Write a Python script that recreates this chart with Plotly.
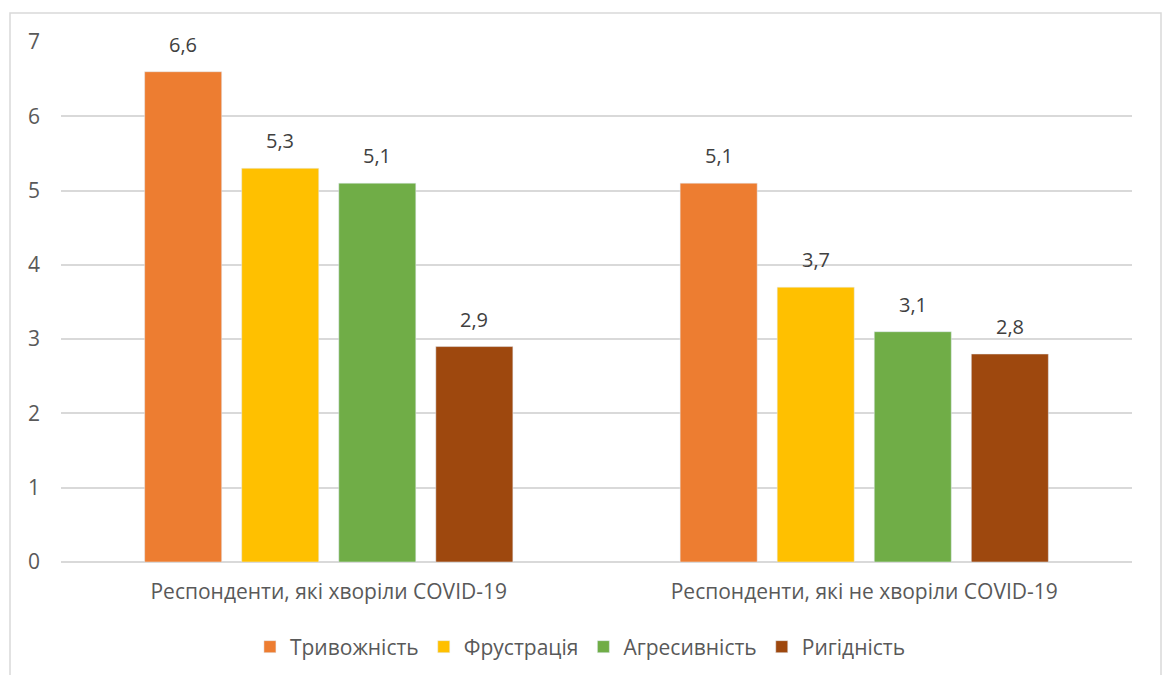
import plotly.graph_objects as go

categories = ["Респонденти, які хворіли COVID-19", "Респонденти, які не хворіли COVID-19"]
series_names = ["Тривожність", "Фрустрація", "Агресивність", "Ригідність"]
series_values = [
    [6.6, 5.1],
    [5.3, 3.7],
    [5.1, 3.1],
    [2.9, 2.8],
]
series_colors = ["#ED7D31", "#FFC000", "#70AD47", "#9E480E"]
y_ticks = [0, 1, 2, 3, 4, 5, 6, 7]

FONT = "Open Sans, Liberation Sans, sans-serif"
TEXT = "#595959"
LABEL = "#404040"

W, H = 1167, 675
L, R, T, B = 61, 35, 42, 113
pw, ph = W - L - R, H - T - B
BARGAP, GROUPGAP = 0.275, 0.206

fig = go.Figure()
for name, vals, col in zip(series_names, series_values, series_colors):
    fig.add_trace(go.Bar(x=categories, y=vals, name=name, marker_color=col))

# value labels above each bar, shifted to the bar's slot within its group
cat_px = pw / len(categories)
slot_px = (1 - BARGAP) * cat_px / len(series_names)
for i, vals in enumerate(series_values):
    shift = (i - (len(series_names) - 1) / 2) * slot_px
    for cat, v in zip(categories, vals):
        fig.add_annotation(x=cat, y=v, xref="x", yref="y", xshift=shift, yshift=12,
                           yanchor="bottom", showarrow=False,
                           text=f"{v:.1f}".replace(".", ","),
                           font=dict(family=FONT, size=20, color=LABEL))

# outer chart frame
def px_x(p):
    return (p - L) / pw

def px_y(p):
    return (H - B - p) / ph

fig.add_shape(type="rect", xref="paper", yref="paper",
              x0=px_x(10), x1=px_x(1161), y0=px_y(700), y1=px_y(13),
              line=dict(color="#D9D9D9", width=1.5), layer="below")

fig.update_layout(
    width=W, height=H,
    margin=dict(l=L, r=R, t=T, b=B, autoexpand=False),
    paper_bgcolor="white", plot_bgcolor="white",
    barmode="group", bargap=BARGAP, bargroupgap=GROUPGAP,
    font=dict(family=FONT, color=TEXT),
    showlegend=True,
    legend=dict(orientation="h", x=0.485, xanchor="center", y=px_y(647), yanchor="middle",
                font=dict(family=FONT, size=21, color=TEXT), itemwidth=30,
                traceorder="normal"),
    xaxis=dict(showgrid=False, showline=False, ticks="", ticklabelstandoff=15,
               automargin=False, tickfont=dict(family=FONT, size=21, color=TEXT)),
    yaxis=dict(range=[0, 7], tickvals=y_ticks, showgrid=True, gridcolor="#D9D9D9",
               gridwidth=1.5, zeroline=True, zerolinecolor="#D9D9D9", zerolinewidth=1.5,
               ticks="", ticklabelstandoff=20, automargin=False,
               tickfont=dict(family=FONT, size=21, color=TEXT)),
)

fig.write_html("out.html")
